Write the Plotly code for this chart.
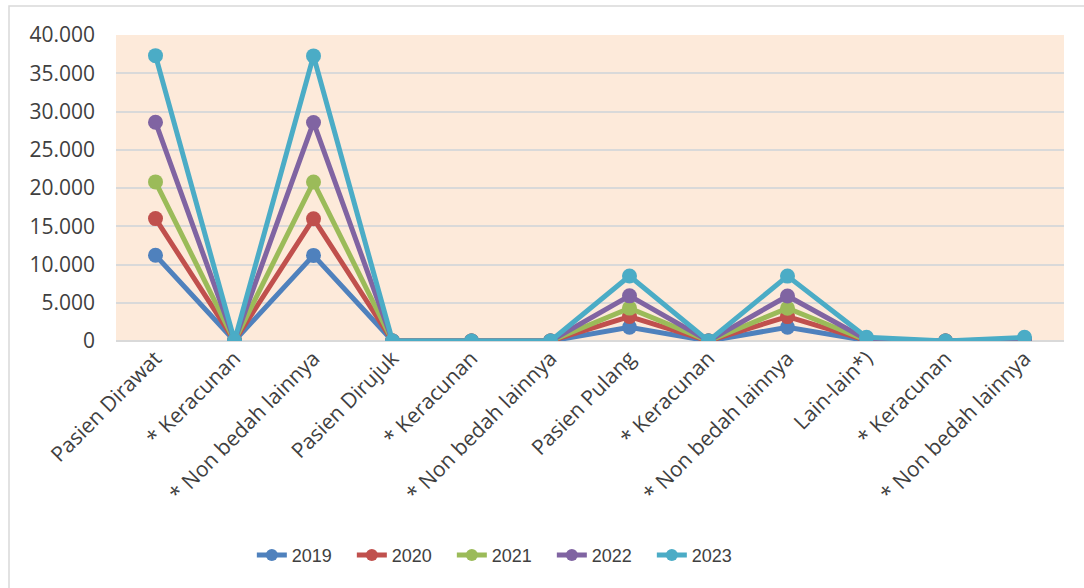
import plotly.graph_objects as go

# Categories along the x axis
categories = [
    "Pasien Dirawat", "* Keracunan", "* Non bedah lainnya",
    "Pasien Dirujuk", "* Keracunan ", "* Non bedah lainnya ",
    "Pasien Pulang", "* Keracunan  ", "* Non bedah lainnya  ",
    "Lain-lain*)", "* Keracunan   ", "* Non bedah lainnya   ",
]
tick_labels = [
    "Pasien Dirawat", "* Keracunan", "* Non bedah lainnya",
    "Pasien Dirujuk", "* Keracunan", "* Non bedah lainnya",
    "Pasien Pulang", "* Keracunan", "* Non bedah lainnya",
    "Lain-lain*)", "* Keracunan", "* Non bedah lainnya",
]

# Yearly series
y2019 = [11200, 10, 11190, 0, 0, 0, 1800, 5, 1795, 60, 0, 60]
y2020 = [16000, 15, 15985, 0, 0, 0, 3200, 8, 3192, 80, 0, 80]
y2021 = [20800, 20, 20780, 0, 0, 0, 4300, 10, 4290, 100, 0, 100]
y2022 = [28600, 30, 28570, 0, 0, 0, 5900, 12, 5888, 200, 0, 200]
y2023 = [37300, 35, 37265, 0, 0, 0, 8500, 15, 8485, 480, 0, 480]

series = [
    ("2019", y2019, "#4F81BD"),
    ("2020", y2020, "#C0504D"),
    ("2021", y2021, "#9BBB59"),
    ("2022", y2022, "#8064A2"),
    ("2023", y2023, "#4BACC6"),
]

fig = go.Figure()
for name, vals, color in series:
    fig.add_trace(go.Scatter(
        x=categories, y=vals, name=name, mode="lines+markers",
        line=dict(color=color, width=5),
        marker=dict(color=color, size=15),
    ))

fig.update_layout(
    width=1084, height=588,
    margin=dict(l=116, r=20, t=35, b=247),
    paper_bgcolor="white",
    plot_bgcolor="#FDEADA",
    separators=",.",
    showlegend=True,
    legend=dict(
        orientation="h", x=0.407, xanchor="center", y=-0.70, yanchor="middle",
        font=dict(family="Liberation Sans", size=18, color="#404040"),
        entrywidth=55, entrywidthmode="pixels",
        itemsizing="constant",
    ),
    shapes=[dict(
        type="rect", xref="paper", yref="paper",
        x0=-116 / 948 + 9 / 948, x1=1.1, y0=-1.2, y1=1 + 29 / 306,
        line=dict(color="#D9D9D9", width=1.5), fillcolor="rgba(0,0,0,0)",
        layer="below",
    )],
)

fig.update_xaxes(
    type="category",
    tickmode="array", tickvals=categories, ticktext=tick_labels,
    tickangle=-45,
    tickfont=dict(family="Open Sans", size=21, color="#404040"),
    showgrid=False, zeroline=False, showline=False,
    range=[-0.5, 11.5],
)
fig.update_yaxes(
    range=[0, 40000], dtick=5000, tickformat=",d",
    tickfont=dict(family="Open Sans", size=21, color="#404040"),
    gridcolor="#D9D9D9", gridwidth=1.5,
    zeroline=True, zerolinecolor="#D9D9D9", zerolinewidth=1.5,
    showline=False, ticklabelstandoff=20,
)

fig.write_html("out.html")
